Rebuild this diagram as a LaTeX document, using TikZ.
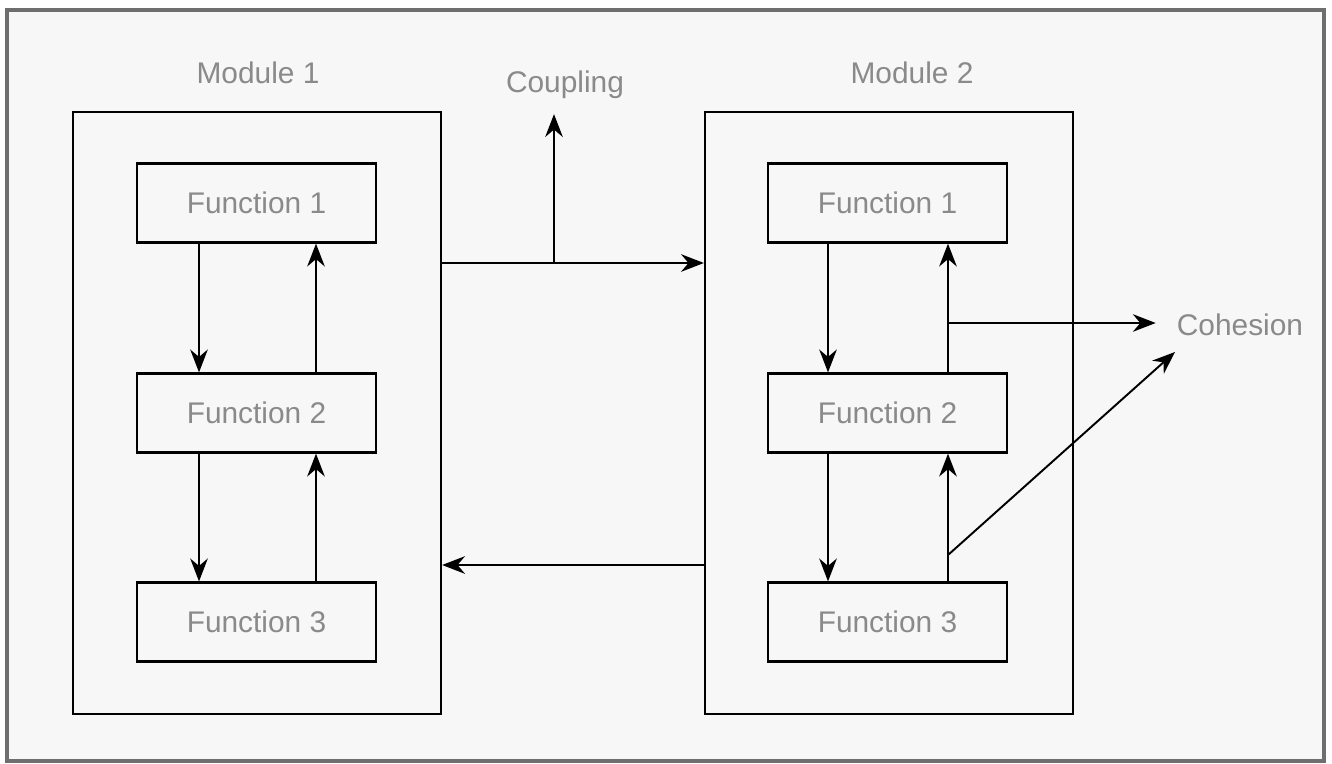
\documentclass[tikz,border=0pt]{standalone}
\usepackage{fontspec}
\setmainfont{Liberation Sans}
\usepackage{tikz}
\usetikzlibrary{arrows.meta}
\definecolor{framegray}{HTML}{6E6E6E}
\definecolor{paper}{HTML}{F7F7F7}
\definecolor{labelgray}{HTML}{8A8A8A}
\tikzset{
  modbox/.style={draw, black, line width=1.3pt, minimum width=7.36cm, minimum height=12.04cm, inner sep=0pt},
  funbox/.style={draw, black, line width=1.3pt, minimum width=4.78cm, minimum height=1.58cm, inner sep=0pt,
    font=\fontsize{17}{20}\selectfont, text=labelgray},
  tag/.style={font=\fontsize{17}{20}\selectfont, text=labelgray},
  arr/.style={-{Stealth[length=13pt,width=10pt]}, black, line width=1.1pt}
}
\begin{document}
\begin{tikzpicture}[x=0.02cm,y=-0.02cm]
\useasboundingbox (0,0) rectangle (1332,764);
\fill[white] (0,0) rectangle (1332,764);
\draw[framegray, fill=paper, line width=2pt] (7,10) rectangle (1324,761);

% modules
\node[modbox] (m1) at (257,413) {};
\node[modbox] (m2) at (889,413) {};
\node[tag] (t1) at (258,73) {Module 1};
\node[tag] (t2) at (912,73) {Module 2};

\node[funbox] (a1) at (256.5,203) {Function 1};
\node[funbox] (a2) at (256.5,413) {Function 2};
\node[funbox] (a3) at (256.5,622) {Function 3};
\node[funbox] (b1) at (887.5,203) {Function 1};
\node[funbox] (b2) at (887.5,413) {Function 2};
\node[funbox] (b3) at (887.5,622) {Function 3};

\node[tag] (cp) at (565,85) {Coupling};
\node[tag] (ch) at (1240,325) {Cohesion};

\coordinate (up) at (554,263);
\coordinate (back) at (575,565);
\coordinate (c1) at (948,323);
\coordinate (c2) at (948,555);
\coordinate (c3) at (1175,352);

% inside module 1
\draw[arr] ([xshift=-1.15cm]a1.south) -- ([xshift=-1.15cm]a2.north);
\draw[arr] ([xshift=1.19cm]a2.north) -- ([xshift=1.19cm]a1.south);
\draw[arr] ([xshift=-1.15cm]a2.south) -- ([xshift=-1.15cm]a3.north);
\draw[arr] ([xshift=1.19cm]a3.north) -- ([xshift=1.19cm]a2.south);

% inside module 2
\draw[arr] ([xshift=-1.19cm]b1.south) -- ([xshift=-1.19cm]b2.north);
\draw[arr] ([xshift=1.21cm]b2.north) -- ([xshift=1.21cm]b1.south);
\draw[arr] ([xshift=-1.19cm]b2.south) -- ([xshift=-1.19cm]b3.north);
\draw[arr] ([xshift=1.21cm]b3.north) -- ([xshift=1.21cm]b2.south);

% between modules
\draw[arr] (up -| m1.east) -- (up -| m2.west);
\draw[arr] (up) -- ([yshift=-0.18cm]up |- cp.south);
\draw[arr] (back -| m2.west) -- (back -| m1.east);

% cohesion
\draw[arr] (c1) -- ([xshift=-0.3cm]c1 -| ch.west);
\draw[arr] (c2) -- (c3);
\end{tikzpicture}
\end{document}
